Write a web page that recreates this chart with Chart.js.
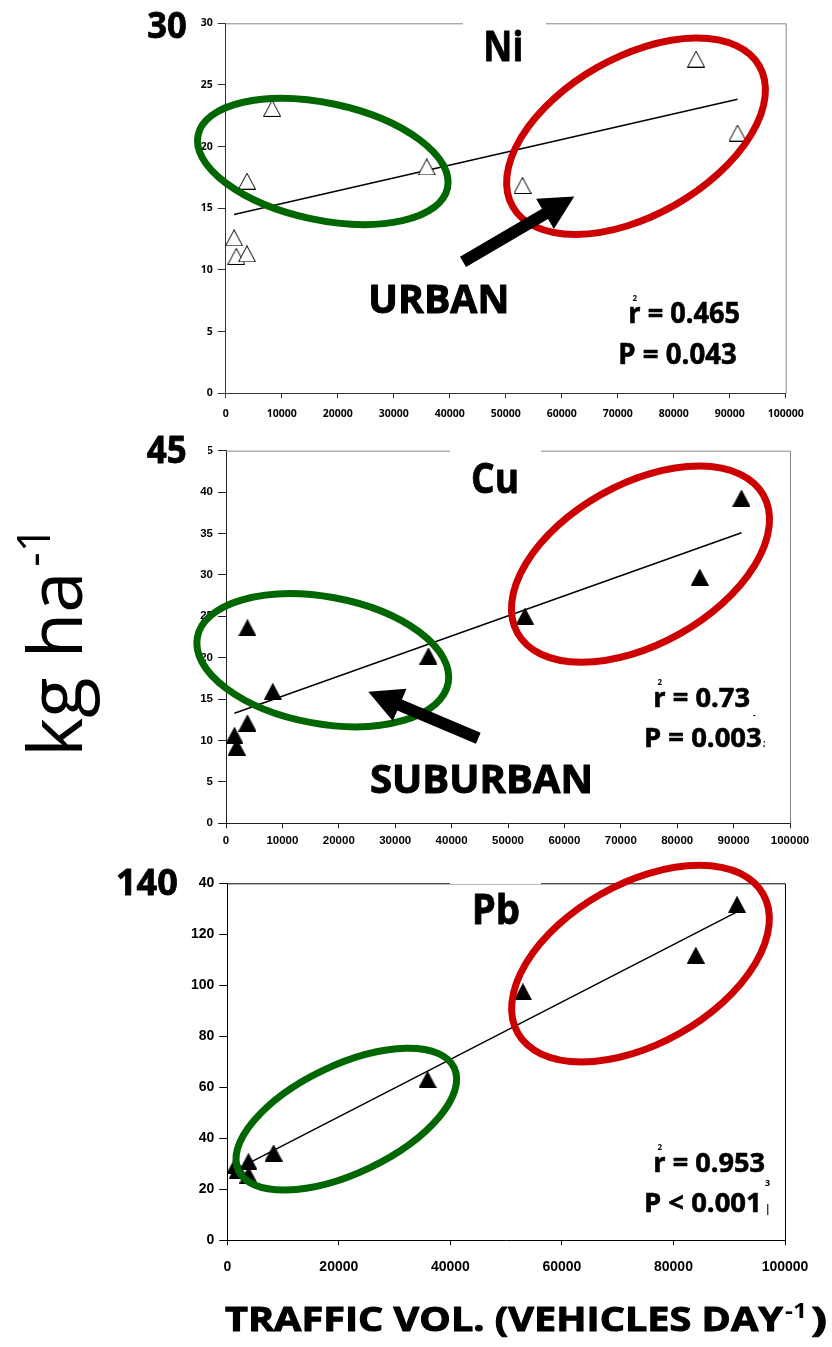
<!DOCTYPE html>
<html>
<head>
<meta charset="utf-8">
<script src="https://cdn.jsdelivr.net/npm/chart.js@4"></script>
<style>
    html, body { margin: 0; padding: 0; background: #fff; }
    #wrap { position: relative; width: 832px; height: 1347px; overflow: hidden; }
    canvas { position: absolute; left: 0; }
</style>
</head>
<body>
<div id="wrap">
    <canvas id="niChart" width="832" height="420" style="top:0px"></canvas>
    <canvas id="cuChart" width="832" height="430" style="top:420px"></canvas>
    <canvas id="pbChart" width="832" height="497" style="top:850px"></canvas>
</div>
<script>
// traffic volume (vehicles per day) at each site
const traffic = [1500, 1900, 3800, 3800, 8300, 35900, 53000, 84000, 91400];
// deposition, kg/ha
const ni = [12.6, 11.1, 11.3, 17.2, 23.1, 18.35, 16.85, 27.1, 21.1];
const cu = [10.6, 9.2, 12.1, 23.6, 15.9, 20.2, 25.0, 29.7, 39.25];
const pb = [29.5, 27.5, 30.8, 25.6, 34.2, 63.0, 97.4, 111.7, 131.6];
// trend line ends
const trendX = [1500, 91400];
const niTrend = [14.5, 23.85];
const cuTrend = [13.3, 35.1];
const pbTrend = [27.6, 128.8];
// stats text
const rSquared = ['0.465', '0.73', '0.953'];
const pText = ['P = 0.043', 'P = 0.003', 'P < 0.001'];
// axis tops
const yMax = [30, 45, 140];
const yStep = [5, 5, 20];
const xStep = [10000, 10000, 20000];

const GREEN = '#006600';
const RED = '#cc0000';
const OS = '"Open Sans", "DejaVu Sans", sans-serif';
const LS = '"Liberation Sans", Arial, sans-serif';

// triangle marker, centred on its box like the spreadsheet ones
function makeTriangle(fill) {
    const c = document.createElement('canvas');
    c.width = 18; c.height = 17;
    const g = c.getContext('2d');
    g.beginPath();
    g.moveTo(9, 0.5);
    g.lineTo(17.5, 16.5);
    g.lineTo(0.5, 16.5);
    g.closePath();
    g.fillStyle = fill;
    g.fill();
    g.strokeStyle = '#000';
    g.lineWidth = 1;
    g.stroke();
    return c;
}
const openTri = makeTriangle('#fff');
const solidTri = makeTriangle('#000');

function pts(xs, ys) {
    return xs.map((x, i) => ({ x: x, y: ys[i] }));
}

// text squeezed to the width it has in the picture; heavy adds a thin outline
function fitText(ctx, txt, x, y, font, w, heavy) {
    ctx.save();
    ctx.font = font;
    ctx.textAlign = 'left';
    ctx.textBaseline = 'alphabetic';
    ctx.fillStyle = '#000';
    const m = ctx.measureText(txt).width;
    ctx.translate(x, y);
    if (w) ctx.scale(w / m, 1);
    ctx.fillText(txt, 0, 0);
    if (heavy) {
        ctx.strokeStyle = '#000';
        ctx.lineWidth = heavy;
        ctx.lineJoin = 'round';
        ctx.strokeText(txt, 0, 0);
    }
    ctx.restore();
}

function drawArrow(ctx, x0, y0, x1, y1) {
    const dx = x1 - x0, dy = y1 - y0;
    const len = Math.hypot(dx, dy);
    const ux = dx / len, uy = dy / len;
    const nx = -uy, ny = ux;
    const sw = 6, hl = 34, hw = 17.5;
    const bx = x1 - ux * hl, by = y1 - uy * hl;
    ctx.save();
    ctx.fillStyle = '#000';
    ctx.beginPath();
    ctx.moveTo(x0 + nx * sw, y0 + ny * sw);
    ctx.lineTo(bx + nx * sw, by + ny * sw);
    ctx.lineTo(bx + nx * hw, by + ny * hw);
    ctx.lineTo(x1, y1);
    ctx.lineTo(bx - nx * hw, by - ny * hw);
    ctx.lineTo(bx - nx * sw, by - ny * sw);
    ctx.lineTo(x0 - nx * sw, y0 - ny * sw);
    ctx.closePath();
    ctx.fill();
    ctx.restore();
}

// frame round the plot area
const framePlugin = {
    id: 'frame',
    beforeDatasetsDraw(chart, args, opts) {
        const a = chart.chartArea;
        const ctx = chart.ctx;
        ctx.save();
        ctx.strokeStyle = opts.color;
        ctx.lineWidth = 1;
        ctx.beginPath();
        ctx.moveTo(a.left, a.top + 0.5);
        ctx.lineTo(a.right + 0.5, a.top + 0.5);
        ctx.lineTo(a.right + 0.5, a.bottom);
        ctx.stroke();
        ctx.restore();
    }
};

// ellipses, arrows, labels
const marksPlugin = {
    id: 'marks',
    afterDraw(chart, args, opts) {
        const ctx = chart.ctx;
        const xs = chart.scales.x, ys = chart.scales.y;
        ctx.save();
        (opts.boxes || []).forEach(b => {
            ctx.fillStyle = '#fff';
            ctx.fillRect(b[0], b[1], b[2], b[3]);
        });
        (opts.texts || []).forEach(t => fitText(ctx, t.t, t.x, t.y, t.font, t.w, t.heavy));
        (opts.ellipses || []).forEach(e => {
            ctx.beginPath();
            ctx.ellipse(xs.getPixelForValue(e.x), ys.getPixelForValue(e.y), e.a, e.b, e.rot * Math.PI / 180, 0, Math.PI * 2);
            ctx.strokeStyle = e.color;
            ctx.lineWidth = 7;
            ctx.stroke();
        });
        (opts.arrows || []).forEach(r => {
            drawArrow(ctx, xs.getPixelForValue(r[0]), ys.getPixelForValue(r[1]),
                xs.getPixelForValue(r[2]), ys.getPixelForValue(r[3]));
        });
        if (opts.rotated) {
            const r = opts.rotated;
            ctx.save();
            ctx.translate(r.x, r.y);
            ctx.rotate(-Math.PI / 2);
            fitText(ctx, r.t, 0, 0, r.font, r.w);
            fitText(ctx, r.sup, r.supDx, -r.supDy, r.supFont, r.supW);
            ctx.restore();
        }
        ctx.restore();
    }
};

function makeChart(id, idx, ys, trend, markers, geo, marks) {
    return new Chart(document.getElementById(id), {
        type: 'scatter',
        data: {
            datasets: [{
                data: pts(traffic, ys),
                pointStyle: markers,
                pointRadius: 9,
                pointHoverRadius: 9
            }, {
                data: pts(trendX, trend),
                showLine: true,
                borderColor: '#000',
                borderWidth: 1.5,
                pointRadius: 0
            }]
        },
        options: {
            responsive: false,
            animation: false,
            devicePixelRatio: 1,
            layout: { padding: { left: 0, right: geo.right, top: geo.top, bottom: 0 } },
            plugins: {
                legend: { display: false },
                tooltip: { enabled: false },
                frame: { color: geo.frame },
                marks: marks
            },
            scales: {
                x: {
                    type: 'linear',
                    min: 0, max: 100000,
                    afterFit: s => { s.height = geo.xh; },
                    border: { color: geo.axis, width: 1 },
                    grid: { drawOnChartArea: false, tickLength: 5, color: geo.axis },
                    ticks: {
                        stepSize: xStep[idx], padding: geo.xpad,
                        color: '#000', font: geo.font,
                        callback: v => String(v)
                    }
                },
                y: {
                    min: 0, max: yMax[idx],
                    afterFit: s => { s.width = geo.left; },
                    border: { color: geo.axis, width: 1 },
                    grid: { drawOnChartArea: false, tickLength: 8, color: geo.axis },
                    ticks: {
                        stepSize: yStep[idx], padding: 5,
                        color: '#000', font: geo.font,
                        callback: v => String(v)
                    }
                }
            }
        },
        plugins: [framePlugin, marksPlugin]
    });
}

// Ni
makeChart('niChart', 0, ni, niTrend, openTri,
    { left: 225.7, right: 46.3, top: 23.3, xh: 26.7, xpad: 9, frame: '#888', axis: '#333',
      font: { family: OS, size: 10.5, weight: 'bold' } },
    {
        boxes: [[463, 0, 83, 27]],
        texts: [
            { t: '30', x: 147.3, y: 37.7, font: 'bold 35px ' + OS, w: 39.4, heavy: 0.8 },
            { t: 'Ni', x: 483.3, y: 61, font: 'bold 41px ' + OS, w: 40, heavy: 0.8 },
            { t: 'URBAN', x: 368.3, y: 313.3, font: 'bold 39px ' + OS, w: 141, heavy: 1 },
            { t: 'r = ' + rSquared[0], x: 628.3, y: 323.3, font: 'bold 28px ' + OS, w: 111.7, heavy: 0.6 },
            { t: '2', x: 632.5, y: 301, font: 'bold 8px ' + OS },
            { t: pText[0], x: 618.3, y: 364, font: 'bold 28px ' + OS, w: 118.4, heavy: 0.6 }
        ],
        ellipses: [
            { x: 17340, y: 18.8, a: 127.5, b: 58.5, rot: 12, color: GREEN },
            { x: 73270, y: 20.84, a: 142, b: 79, rot: -29.7, color: RED }
        ],
        arrows: [[42375, 10.65, 62250, 15.95]]
    });

// Cu
makeChart('cuChart', 1, cu, cuTrend, solidTri,
    { left: 226, right: 42, top: 30.7, xh: 26.7, xpad: 6, frame: '#888', axis: '#222',
      font: { family: LS, size: 11.5, weight: 'bold' } },
    {
        boxes: [[140, 10, 68, 40], [450, 0, 91, 33]],
        texts: [
            { t: '45', x: 146.7, y: 43.3, font: 'bold 37px ' + OS, w: 40, heavy: 0.8 },
            { t: 'Cu', x: 471, y: 72.7, font: 'bold 41px ' + OS, w: 48, heavy: 0.8 },
            { t: 'SUBURBAN', x: 370, y: 372.7, font: 'bold 38.5px ' + OS, w: 223, heavy: 1 },
            { t: 'r = ' + rSquared[1], x: 653.3, y: 287.3, font: 'bold 27px ' + OS, w: 96.7, heavy: 0.6 },
            { t: '2', x: 657.5, y: 265, font: 'bold 8px ' + OS },
            { t: '-', x: 753, y: 298, font: 'bold 8px ' + OS },
            { t: pText[1], x: 644, y: 327.3, font: 'bold 27px ' + OS, w: 117.7, heavy: 0.6 },
            { t: ';', x: 763, y: 326, font: 'bold 9px ' + OS }
        ],
        ellipses: [
            { x: 17160, y: 19.7, a: 127.5, b: 63.5, rot: 10.3, color: GREEN },
            { x: 73490, y: 31.3, a: 141, b: 80, rot: -29.3, color: RED }
        ],
        arrows: [[44730, 10.27, 25230, 15.9]],
        rotated: { t: 'kg ha', x: 81.7, y: 336.7, font: '75px ' + OS, w: 185,
                   sup: '-1', supDx: 190, supDy: 32, supFont: '46px ' + OS, supW: 40 }
    });

// Pb
makeChart('pbChart', 2, pb, pbTrend, solidTri,
    { left: 227.3, right: 47, top: 33.3, xh: 106.7, xpad: 13, frame: '#000', axis: '#000',
      font: { family: LS, size: 14, weight: 'bold' } },
    {
        boxes: [[110, 12, 89, 40], [450, 0, 91, 34]],
        texts: [
            { t: '140', x: 116, y: 45, font: 'bold 36px ' + OS, w: 61.7, heavy: 0.8 },
            { t: 'Pb', x: 471.7, y: 74, font: 'bold 41px ' + OS, w: 48.3, heavy: 0.8 },
            { t: 'r = ' + rSquared[2], x: 653.3, y: 321.7, font: 'bold 27px ' + OS, w: 111.7, heavy: 0.6 },
            { t: '2', x: 657.5, y: 300, font: 'bold 8px ' + OS },
            { t: '3', x: 765, y: 336, font: 'bold 9px ' + OS },
            { t: pText[2], x: 644, y: 361.7, font: 'bold 27px ' + OS, w: 117.7, heavy: 0.6 },
            { t: '|', x: 765, y: 362, font: 'bold 10px ' + OS },
            { t: 'TRAFFIC VOL. (VEHICLES DAY', x: 225, y: 481, font: 'bold 34px ' + OS, w: 558, heavy: 1 },
            { t: '-1', x: 785, y: 468, font: 'bold 22px ' + OS, w: 22 },
            { t: ')', x: 811, y: 481, font: 'bold 34px ' + OS, w: 16, heavy: 1 }
        ],
        ellipses: [
            { x: 21340, y: 47.5, a: 119.5, b: 54, rot: -25.5, color: GREEN },
            { x: 74090, y: 108.5, a: 141, b: 80, rot: -29.5, color: RED }
        ],
        arrows: []
    });
</script>
</body>
</html>
